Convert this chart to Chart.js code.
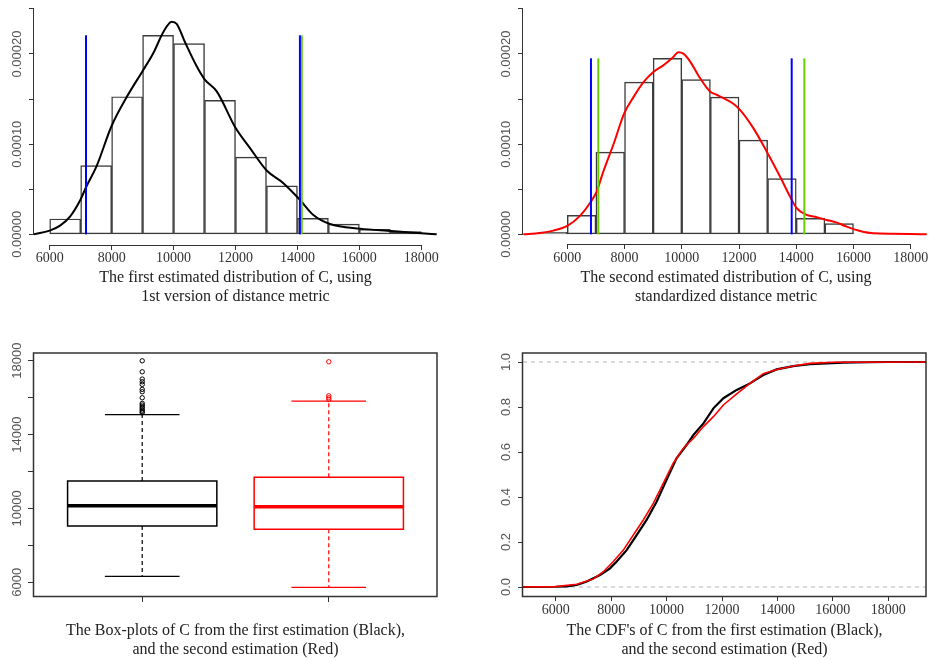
<!DOCTYPE html>
<html><head><meta charset="utf-8">
<script src="https://cdn.jsdelivr.net/npm/chart.js@4.4.1/dist/chart.umd.min.js"></script>
<style>
html,body{margin:0;padding:0;background:#fff;overflow:hidden;width:929px;height:660px;position:relative;}
canvas{position:absolute;display:block;}
</style></head><body>
<canvas id="c1" width="464" height="310" style="left:0;top:0;width:464px;height:310px"></canvas>
<canvas id="c2" width="500" height="310" style="left:464px;top:0;width:500px;height:310px"></canvas>
<canvas id="c3" width="464" height="350" style="left:0;top:310px;width:464px;height:350px"></canvas>
<canvas id="c4" width="465" height="350" style="left:464px;top:310px;width:465px;height:350px"></canvas>
<script>
// ---------------- data ----------------
const BIN_WIDTH = 1000;
const HIST1_BIN_START = [6000, 7000, 8000, 9000, 10000, 11000, 12000, 13000, 14000, 15000, 16000, 17000];
const HIST1_DENSITY = [0.0000170, 0.0000763, 0.0001526, 0.0002207, 0.0002115, 0.0001485, 0.0000856, 0.0000537, 0.0000178, 0.0000114, 0.0000055, 0.0000029];
const KDE1_X = [5473, 6000, 6334, 6657, 6980, 7173, 7518, 7991, 8486, 8992, 9348, 9671, 9940, 10101, 10370, 10747, 10995, 11394, 12006, 12469, 13007, 13546, 14084, 14514, 15053, 16021, 17044, 18002, 18497];
const KDE1_Y = [0, 0.0000041, 0.0000096, 0.0000196, 0.0000374, 0.0000522, 0.0000759, 0.0001196, 0.0001522, 0.0001807, 0.0002011, 0.0002244, 0.0002358, 0.0002334, 0.0002130, 0.0001863, 0.0001722, 0.0001585, 0.0001178, 0.0000956, 0.0000707, 0.0000567, 0.0000381, 0.0000215, 0.0000115, 0.0000063, 0.0000037, 0.0000011, 0];
const VLINES1_BLUE = [7173, 14080];
const VLINES1_GREEN = [7173, 14140];

const HIST2_BIN_START = [5000, 6000, 7000, 8000, 9000, 10000, 11000, 12000, 13000, 14000, 15000, 16000, 17000];
const HIST2_DENSITY = [0.0000022, 0.0000211, 0.0000911, 0.0001689, 0.0001952, 0.0001715, 0.0001522, 0.0001044, 0.0000619, 0.0000178, 0.0000118, 0.0000005, 0.0000010];
const KDE2_X = [4462, 5045, 5511, 6000, 6443, 6827, 7025, 7258, 7608, 7992, 8307, 8656, 9006, 9355, 9705, 9880, 10055, 10288, 10637, 10987, 11220, 11453, 11802, 12035, 12501, 12967, 13433, 13783, 14016, 14365, 14715, 15064, 15414, 15763, 16229, 16696, 17395, 17977, 18560];
const KDE2_Y = [0, 0.0000015, 0.0000041, 0.0000093, 0.0000204, 0.0000363, 0.0000474, 0.0000696, 0.0000993, 0.0001344, 0.0001519, 0.0001685, 0.0001800, 0.0001874, 0.0001967, 0.0002019, 0.0002004, 0.0001919, 0.0001733, 0.0001585, 0.0001548, 0.0001511, 0.0001448, 0.0001381, 0.0001178, 0.0000919, 0.0000641, 0.0000419, 0.0000289, 0.0000215, 0.0000189, 0.0000159, 0.0000130, 0.0000085, 0.0000037, 0.0000011, 0.0000007, 0.0000004, 0];
const VLINES2_BLUE = [6827, 13841];
const VLINES2_GREEN = [7084, 14284];

const BOX_GROUPS = ['First estimation (Black)', 'Second estimation (Red)'];
const BOX_LOWER_WHISKER = [6325, 5729];
const BOX_Q1 = [9047, 8869];
const BOX_MEDIAN = [10146, 10092];
const BOX_Q3 = [11483, 11684];
const BOX_UPPER_WHISKER = [15080, 15814];
const OUTLIERS_1 = [17995, 17400, 17005, 16860, 16718, 16447, 16318, 15993, 15689, 15597, 15505, 15418, 15327, 15250, 15180];
const OUTLIERS_2 = [17942, 16100, 15993, 15906];

const CDF1_X = [4820, 6000, 6400, 6760, 7120, 7360, 7600, 7960, 8200, 8560, 8920, 9280, 9640, 10000, 10360, 10720, 10970, 11330, 11690, 12050, 12530, 13010, 13490, 13970, 14570, 15170, 15780, 16380, 17340, 17990, 19360];
const CDF1_Y = [0, 0.001, 0.003, 0.009, 0.024, 0.039, 0.053, 0.083, 0.113, 0.164, 0.231, 0.298, 0.379, 0.476, 0.572, 0.631, 0.676, 0.727, 0.794, 0.839, 0.876, 0.905, 0.942, 0.967, 0.982, 0.990, 0.994, 0.997, 0.999, 1.0, 1.0];
const CDF2_X = [4820, 6000, 6760, 7360, 7720, 8080, 8440, 8800, 9160, 9520, 9880, 10240, 10600, 10970, 11330, 11690, 12050, 12530, 13010, 13490, 13970, 14570, 15170, 16020, 19360];
const CDF2_Y = [0, 0.0015, 0.012, 0.036, 0.068, 0.113, 0.164, 0.231, 0.298, 0.372, 0.461, 0.550, 0.616, 0.661, 0.713, 0.757, 0.809, 0.858, 0.905, 0.948, 0.967, 0.982, 0.994, 0.999, 1.0];
const CDF_REF_LEVELS = [0, 1];

const X_TICKS = [6000, 8000, 10000, 12000, 14000, 16000, 18000];
const X_TICK_LABELS = ['6000', '8000', '10000', '12000', '14000', '16000', '18000'];
const DENS_TICKS = [0, 0.00005, 0.0001, 0.00015, 0.0002, 0.00025];
const DENS_TICK_LABELS = ['0.00000', '', '0.00010', '', '0.00020', ''];
const BOX_Y_TICKS = [6000, 8000, 10000, 12000, 14000, 16000, 18000];
const BOX_Y_TICK_LABELS = ['6000', '', '10000', '', '14000', '', '18000'];
const BOX_X_TICKS = [1, 2];
const BOX_X_TICK_LABELS = ['', ''];
const CDF_Y_TICKS = [0, 0.2, 0.4, 0.6, 0.8, 1.0];
const CDF_Y_TICK_LABELS = ['0.0', '0.2', '0.4', '0.6', '0.8', '1.0'];

const CAPTION1 = ['The first estimated distribution of C, using', '1st version of distance metric'];
const CAPTION2 = ['The second estimated distribution of C, using', 'standardized distance metric'];
const CAPTION3 = ['The Box-plots of C from the first estimation (Black),', 'and the second estimation (Red)'];
const CAPTION4 = ["The CDF's of C from the first estimation (Black),", 'and the second estimation (Red)'];

// ---------------- styling / helpers ----------------
const SERIF = '"Liberation Serif", "DejaVu Serif", serif';
const SANS = '"Liberation Sans", "DejaVu Sans", sans-serif';
const AXIS_COLOR = '#333';
const BLUE = '#0000ff', GREEN = '#66cd00', RED = '#ff0000';
const Y_LABEL_SIZE = 13, X_LABEL_SIZE = 14, CAPTION_SIZE = 16;

const mctx = document.createElement('canvas').getContext('2d');
function widest(labels, size, family) {
  mctx.font = size + 'px ' + family;
  return Math.max(0, ...labels.map(l => mctx.measureText(l).width));
}

function yScale(o) {
  const w = widest(o.labels, Y_LABEL_SIZE, SANS);
  return {
    type: 'linear', min: o.min, max: o.max,
    afterBuildTicks: s => { s.ticks = o.ticks.map(v => ({ value: v })); },
    afterFit: s => { s.width = o.width; },
    border: { display: false },
    grid: { drawOnChartArea: false, drawTicks: true, tickLength: o.tl, color: AXIS_COLOR, tickColor: AXIS_COLOR, lineWidth: 1 },
    ticks: {
      autoSkip: false, minRotation: 90, maxRotation: 90, crossAlign: 'center',
      padding: o.gap - o.tl - w / 2,
      font: { family: SANS, size: Y_LABEL_SIZE }, color: '#555',
      callback: (v, i) => o.labels[i]
    }
  };
}
function xScale(o) {
  return {
    type: 'linear', min: o.min, max: o.max, offset: false,
    afterBuildTicks: s => { s.ticks = o.ticks.map(v => ({ value: v })); },
    afterFit: s => { s.height = o.height; },
    border: { display: false },
    grid: { offset: false, drawOnChartArea: false, drawTicks: true, tickLength: o.tl, color: AXIS_COLOR, tickColor: AXIS_COLOR, lineWidth: 1 },
    ticks: {
      autoSkip: false, minRotation: 0, maxRotation: 0, padding: o.pad,
      font: { family: SERIF, size: X_LABEL_SIZE }, color: '#333',
      callback: (v, i) => o.labels[i]
    },
    title: {
      display: true, text: o.title, color: '#222',
      font: { family: SERIF, size: CAPTION_SIZE, lineHeight: o.lh / CAPTION_SIZE },
      padding: { top: 0, bottom: o.tpb }
    }
  };
}
function rAxes(boxed) {
  return {
    id: 'rAxes',
    afterDatasetsDraw(chart) {
      const { ctx, chartArea: a, scales: { x, y } } = chart;
      ctx.save();
      ctx.strokeStyle = AXIS_COLOR;
      if (boxed) {
        ctx.lineWidth = 1.5;
        ctx.strokeRect(Math.round(a.left) - 0.5, Math.round(a.top), Math.round(a.right - a.left) + 0.5, Math.round(a.bottom - a.top) + 0.5);
      } else {
        ctx.lineWidth = 1;
        const xl = Math.round(a.left) - 0.5, yb = Math.round(a.bottom) + 0.5;
        ctx.beginPath();
        ctx.moveTo(xl, y.getPixelForValue(y.ticks[0].value));
        ctx.lineTo(xl, y.getPixelForValue(y.ticks[y.ticks.length - 1].value));
        ctx.moveTo(x.getPixelForValue(x.ticks[0].value), yb);
        ctx.lineTo(x.getPixelForValue(x.ticks[x.ticks.length - 1].value), yb);
        ctx.stroke();
      }
      ctx.restore();
    }
  };
}
const pts = (xs, ys) => xs.map((x, i) => ({ x, y: ys[i] }));
function baseOptions(padding, x, y) {
  return {
    responsive: false, animation: false, devicePixelRatio: 1, events: [],
    layout: { padding },
    plugins: { legend: { display: false }, tooltip: { enabled: false } },
    elements: { point: { radius: 0 } },
    scales: { x, y }
  };
}

// ---------------- histogram panels ----------------
function histDatasets(starts, dens, kx, ky, kdeColor, blues, greens) {
  const top = Math.max(...dens);
  const ds = [
    {
      type: 'bar', data: starts.map((s, i) => ({ x: s + BIN_WIDTH / 2, y: dens[i] })),
      backgroundColor: 'rgba(0,0,0,0)', borderColor: '#3c3c3c', borderWidth: 0.8, borderSkipped: false,
      barPercentage: 1, categoryPercentage: 1, order: 10
    },
    {
      type: 'line', data: pts(kx, ky), borderColor: kdeColor, borderWidth: 2,
      cubicInterpolationMode: 'monotone', pointRadius: 0, order: 5
    }
  ];
  greens.forEach(v => ds.push({ type: 'line', data: [{ x: v, y: 0 }, { x: v, y: top }], borderColor: GREEN, borderWidth: 2, pointRadius: 0, order: 3 }));
  blues.forEach(v => ds.push({ type: 'line', data: [{ x: v, y: 0 }, { x: v, y: top }], borderColor: BLUE, borderWidth: 2, pointRadius: 0, order: 2 }));
  return ds;
}

new Chart(document.getElementById('c1'), {
  type: 'line',
  data: { datasets: histDatasets(HIST1_BIN_START, HIST1_DENSITY, KDE1_X, KDE1_Y, '#000', VLINES1_BLUE, VLINES1_GREEN) },
  options: baseOptions({ left: 0, top: 8, right: 27, bottom: 0 },
    xScale({ min: 5493, max: 18507, ticks: X_TICKS, labels: X_TICK_LABELS, height: 65, tl: 5, pad: 0, title: CAPTION1, lh: 18.6, tpb: 4 }),
    yScale({ min: -0.00001187, max: 0.00025102, ticks: DENS_TICKS, labels: DENS_TICK_LABELS, width: 34, tl: 5, gap: 17 })),
  plugins: [rAxes(false)]
});

new Chart(document.getElementById('c2'), {
  type: 'line',
  data: { datasets: histDatasets(HIST2_BIN_START, HIST2_DENSITY, KDE2_X, KDE2_Y, RED, VLINES2_BLUE, VLINES2_GREEN) },
  options: baseOptions({ left: 0, top: 8, right: 35, bottom: 0 },
    xScale({ min: 4452, max: 18639, ticks: X_TICKS, labels: X_TICK_LABELS, height: 66, tl: 5, pad: 1, title: CAPTION2, lh: 18.6, tpb: 4 }),
    yScale({ min: -0.00001076, max: 0.00025102, ticks: DENS_TICKS, labels: DENS_TICK_LABELS, width: 59, tl: 5, gap: 17 })),
  plugins: [rAxes(false)]
});

// ---------------- box plots ----------------
const BOX_WEX = 0.8, STAPLE_WEX = 0.4;
function boxDatasets(i, color, outliers) {
  const c = i + 1, h = BOX_WEX / 2, s = STAPLE_WEX / 2;
  return [
    { data: [{ x: c, y: BOX_Q3[i] }, { x: c, y: BOX_UPPER_WHISKER[i] }, { x: c, y: null }, { x: c, y: BOX_Q1[i] }, { x: c, y: BOX_LOWER_WHISKER[i] }],
      borderColor: color, borderWidth: 1.2, borderDash: [4, 3], spanGaps: false, order: 6 },
    { data: [{ x: c - s, y: BOX_UPPER_WHISKER[i] }, { x: c + s, y: BOX_UPPER_WHISKER[i] }, { x: c, y: null }, { x: c - s, y: BOX_LOWER_WHISKER[i] }, { x: c + s, y: BOX_LOWER_WHISKER[i] }],
      borderColor: color, borderWidth: 1.2, spanGaps: false, order: 5 },
    { data: [{ x: c - h, y: BOX_Q1[i] }, { x: c - h, y: BOX_Q3[i] }, { x: c + h, y: BOX_Q3[i] }, { x: c + h, y: BOX_Q1[i] }, { x: c - h, y: BOX_Q1[i] }],
      borderColor: color, borderWidth: 1.5, borderCapStyle: 'square', borderJoinStyle: 'miter', order: 4 },
    { data: [{ x: c - h, y: BOX_MEDIAN[i] }, { x: c + h, y: BOX_MEDIAN[i] }],
      borderColor: color, borderWidth: 3.5, order: 3 },
    { data: outliers.map(v => ({ x: c, y: v })), showLine: false, pointRadius: 2.2, pointStyle: 'circle',
      pointBorderColor: color, pointBackgroundColor: 'rgba(0,0,0,0)', pointBorderWidth: 1, order: 2 }
  ];
}
new Chart(document.getElementById('c3'), {
  type: 'line',
  data: { datasets: [...boxDatasets(0, '#000', OUTLIERS_1), ...boxDatasets(1, RED, OUTLIERS_2)] },
  options: baseOptions({ left: 0, top: 43, right: 27, bottom: 0 },
    xScale({ min: 0.42, max: 2.58, ticks: BOX_X_TICKS, labels: BOX_X_TICK_LABELS, height: 64, tl: 6, pad: 0, title: CAPTION3, lh: 19, tpb: 0.5 }),
    yScale({ min: 5258, max: 18417, ticks: BOX_Y_TICKS, labels: BOX_Y_TICK_LABELS, width: 34, tl: 6, gap: 17 })),
  plugins: [rAxes(true)]
});

// ---------------- CDFs ----------------
const CDF_XMIN = 4820, CDF_XMAX = 19360;
const cdfDatasets = [
  ...CDF_REF_LEVELS.map(l => ({ data: [{ x: CDF_XMIN, y: l }, { x: CDF_XMAX, y: l }], borderColor: '#b5b5b5', borderWidth: 1, borderDash: [4, 4], order: 9 })),
  { data: pts(CDF1_X, CDF1_Y), borderColor: '#000', borderWidth: 2.2, order: 5 },
  { data: pts(CDF2_X, CDF2_Y), borderColor: RED, borderWidth: 1.6, order: 4 }
];
new Chart(document.getElementById('c4'), {
  type: 'line',
  data: { datasets: cdfDatasets },
  options: baseOptions({ left: 0, top: 43, right: 3, bottom: 0 },
    xScale({ min: CDF_XMIN, max: CDF_XMAX, ticks: X_TICKS, labels: X_TICK_LABELS, height: 64, tl: 5, pad: 1.3, title: CAPTION4, lh: 19, tpb: 0.5 }),
    yScale({ min: -0.04, max: 1.04, ticks: CDF_Y_TICKS, labels: CDF_Y_TICK_LABELS, width: 59, tl: 5, gap: 17 })),
  plugins: [rAxes(true)]
});
</script>
</body></html>
